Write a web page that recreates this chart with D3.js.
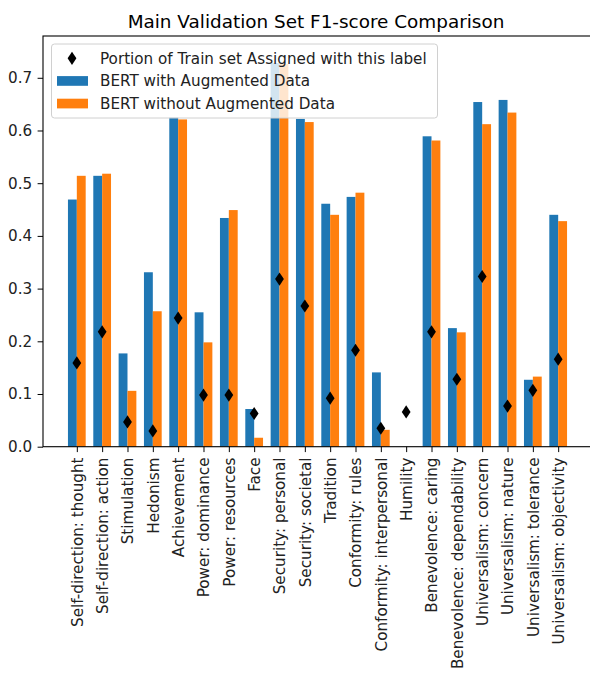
<!DOCTYPE html>
<html>
<head>
<meta charset="utf-8">
<script src="https://cdn.jsdelivr.net/npm/d3@7"></script>
<style>
  body { margin: 0; background: #fff; }
  svg { font-family: "DejaVu Sans", sans-serif; }
</style>
</head>
<body>
<svg width="590" height="673"></svg>
<script>
const categories = [
  "Self-direction: thought", "Self-direction: action", "Stimulation", "Hedonism",
  "Achievement", "Power: dominance", "Power: resources", "Face",
  "Security: personal", "Security: societal", "Tradition", "Conformity: rules",
  "Conformity: interpersonal", "Humility", "Benevolence: caring",
  "Benevolence: dependability", "Universalism: concern", "Universalism: nature",
  "Universalism: tolerance", "Universalism: objectivity"
];
const withAug = [0.469, 0.514, 0.177, 0.331, 0.625, 0.255, 0.434, 0.0715, 0.728, 0.622,
  0.461, 0.474, 0.141, 0, 0.589, 0.225, 0.654, 0.658, 0.127, 0.440];
const withoutAug = [0.514, 0.518, 0.106, 0.257, 0.621, 0.198, 0.449, 0.017, 0.726, 0.616,
  0.440, 0.482, 0.032, 0, 0.581, 0.217, 0.612, 0.634, 0.133, 0.428];
const portion = [0.159, 0.218, 0.047, 0.030, 0.244, 0.098, 0.098, 0.063, 0.318, 0.267,
  0.092, 0.183, 0.035, 0.066, 0.218, 0.128, 0.323, 0.077, 0.107, 0.166];
const yTicks = [0, 0.1, 0.2, 0.3, 0.4, 0.5, 0.6, 0.7];

const svg = d3.select("svg");
const blue = "#1f77b4", orange = "#ff7f0e";
const barW = 0.35;
const fontSize = 15.2;

const margin = { top: 36, left: 43 };
const bottomY = 446.7;
const rightX = 592;

const x = d3.scaleLinear()
  .domain([-1.335, 20.335])
  .range([margin.left, rightX]);
const y = d3.scaleLinear()
  .domain([0, 0.7793])
  .range([bottomY, margin.top]);

// title
svg.append("text")
  .attr("x", 316)
  .attr("y", 28)
  .attr("text-anchor", "middle")
  .attr("font-size", 18.4)
  .text("Main Validation Set F1-score Comparison");

// bars
const idx = d3.range(categories.length);
svg.append("g").selectAll("rect").data(idx).enter().append("rect")
  .attr("x", i => x(i - barW))
  .attr("width", x(barW) - x(0))
  .attr("y", i => y(withAug[i]))
  .attr("height", i => y(0) - y(withAug[i]))
  .attr("fill", blue);
svg.append("g").selectAll("rect").data(idx).enter().append("rect")
  .attr("x", i => x(i))
  .attr("width", x(barW) - x(0))
  .attr("y", i => y(withoutAug[i]))
  .attr("height", i => y(0) - y(withoutAug[i]))
  .attr("fill", orange);

// thin diamond markers
const diamond = (w, h) => `M0,${-h}L${w},0L0,${h}L${-w},0Z`;
svg.append("g").selectAll("path").data(idx).enter().append("path")
  .attr("transform", i => `translate(${x(i)},${y(portion[i])})`)
  .attr("d", diamond(4.4, 6.6))
  .attr("fill", "black");

// axes
const yAxis = d3.axisLeft(y)
  .tickValues(yTicks)
  .tickFormat(d3.format(".1f"))
  .tickSize(5.4)
  .tickPadding(5.4);
const yG = svg.append("g")
  .attr("transform", `translate(${margin.left},0)`)
  .call(yAxis);
yG.select(".domain").remove();
yG.selectAll("text").attr("font-size", fontSize).attr("fill", "#222").attr("font-family", "DejaVu Sans");

const xAxis = d3.axisBottom(x)
  .tickValues(idx)
  .tickFormat(i => categories[i])
  .tickSize(5.4);
const xG = svg.append("g")
  .attr("transform", `translate(0,${bottomY})`)
  .call(xAxis);
xG.select(".domain").remove();
xG.selectAll("text")
  .attr("font-size", fontSize)
  .attr("fill", "#222")
  .attr("font-family", "DejaVu Sans")
  .attr("transform", "rotate(-90)")
  .attr("x", -10.8)
  .attr("y", 0)
  .attr("dy", "0.36em")
  .attr("text-anchor", "end");

// spines
svg.append("rect")
  .attr("x", margin.left)
  .attr("y", margin.top)
  .attr("width", rightX - margin.left)
  .attr("height", bottomY - margin.top)
  .attr("fill", "none")
  .attr("stroke", "black")
  .attr("stroke-width", 1.1);

// legend
const legend = svg.append("g");
legend.append("rect")
  .attr("x", 51.5).attr("y", 44)
  .attr("width", 386).attr("height", 74)
  .attr("rx", 3)
  .attr("fill", "white").attr("fill-opacity", 0.8)
  .attr("stroke", "#d0d0d0");
const legendItems = [
  { label: "Portion of Train set Assigned with this label", type: "marker" },
  { label: "BERT with Augmented Data", type: "bar", color: blue },
  { label: "BERT without Augmented Data", type: "bar", color: orange }
];
legendItems.forEach((d, k) => {
  const cy = 58.3 + k * 22.6;
  if (d.type === "marker") {
    legend.append("path")
      .attr("transform", `translate(72,${cy})`)
      .attr("d", diamond(4.4, 6.6))
      .attr("fill", "black");
  } else {
    legend.append("rect")
      .attr("x", 57).attr("y", cy - 4.8)
      .attr("width", 31).attr("height", 9.7)
      .attr("fill", d.color);
  }
  legend.append("text")
    .attr("x", 100).attr("y", cy)
    .attr("dy", "0.36em")
    .attr("font-size", fontSize)
    .attr("fill", "#222")
    .text(d.label);
});
</script>
</body>
</html>
